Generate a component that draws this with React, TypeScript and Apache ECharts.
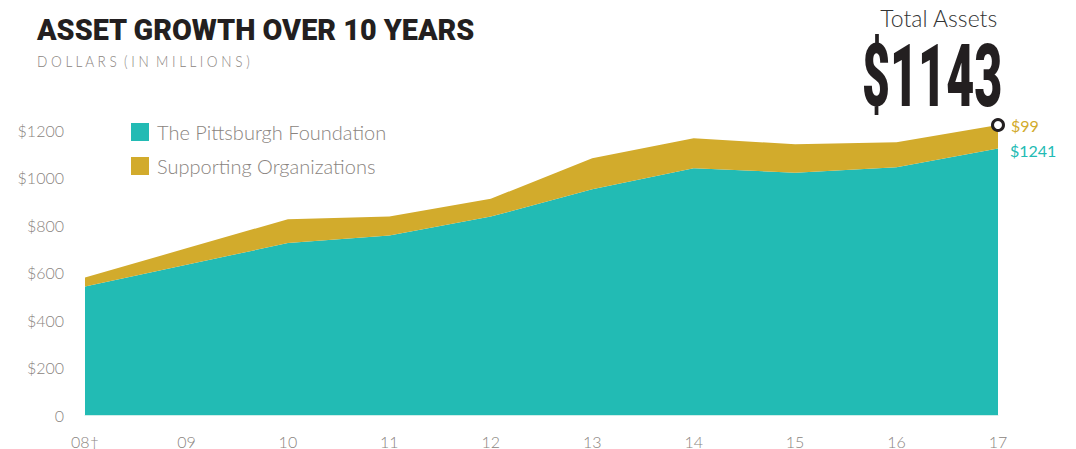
import React, { useEffect, useRef } from "react";
import * as echarts from "echarts";

const years = ["08†", "09", "10", "11", "12", "13", "14", "15", "16", "17"];
const pittsburghFoundation = [542, 634, 725, 757, 837, 952, 1041, 1022, 1045, 1124];
const supportingOrgs = [38, 69, 101, 80, 75, 131, 126, 120, 105, 99];
const yTicks = [0, 200, 400, 600, 800, 1000, 1200];
const endLabels = { foundation: "$1241", supporting: "$99" };
const totalAssetsText = "$1143";

const TEAL = "#22bbb4";
const GOLD = "#d2ab2c";
const GRAY = "#8a8480";
const DARK = "#231f20";
const FONT = "Lato, 'Open Sans', sans-serif";

export default function App() {
  const ref = useRef<HTMLDivElement>(null);
  useEffect(() => {
    if (!ref.current) return;
    const chart = echarts.init(ref.current, null, { renderer: "svg" });
    const last = years.length - 1;
    const fData = pittsburghFoundation.map((v, i) =>
      i === last
        ? {
            value: v,
            symbol: "circle",
            symbolSize: 2,
            itemStyle: { color: "rgba(0,0,0,0)", borderWidth: 0 },
            label: {
              show: true,
              position: "right",
              distance: 11,
              formatter: endLabels.foundation,
              color: TEAL,
              fontSize: 16,
              fontFamily: FONT,
              offset: [0, 2],
            },
          }
        : v
    );
    const sData = supportingOrgs.map((v, i) =>
      i === last
        ? {
            value: v,
            symbol: "circle",
            symbolSize: 11,
            itemStyle: { color: "#ffffff", borderColor: DARK, borderWidth: 3 },
            label: {
              show: true,
              position: "right",
              distance: 6,
              formatter: endLabels.supporting,
              color: GOLD,
              fontSize: 16,
              fontFamily: FONT,
            },
          }
        : v
    );
    chart.setOption({
      animation: false,
      grid: { left: 85, right: 78, top: 130.5, bottom: 33.5 },
      legend: {
        orient: "vertical",
        left: 131,
        top: 122,
        padding: 0,
        itemWidth: 18,
        itemHeight: 18,
        itemGap: 14,
        icon: "rect",
        textStyle: { color: GRAY, fontSize: 20, fontFamily: FONT, fontWeight: 300, padding: [0, 0, 0, 3] },
        data: ["The Pittsburgh Foundation", "Supporting Organizations"],
      },
      xAxis: {
        type: "category",
        data: years,
        boundaryGap: false,
        axisLine: { show: true, lineStyle: { color: "#cfeee9", width: 1 } },
        axisTick: { show: false },
        axisLabel: {
          color: GRAY,
          fontSize: 16,
          margin: 18,
          fontWeight: 300,
          fontFamily: FONT,
        },
      },
      yAxis: {
        type: "value",
        min: yTicks[0],
        max: yTicks[yTicks.length - 1],
        interval: 200,
        splitLine: { show: false },
        axisLine: { show: false },
        axisTick: { show: false },
        axisLabel: {
          color: GRAY,
          fontSize: 16,
          margin: 21,
          fontWeight: 300,
          fontFamily: FONT,
          formatter: (v: number) => (v === 0 ? "0" : "$" + v),
        },
      },
      series: [
        {
          name: "The Pittsburgh Foundation",
          type: "line",
          stack: "total",
          data: fData,
          symbol: "none",
          clip: false,
          lineStyle: { width: 0 },
          areaStyle: { color: TEAL, opacity: 1 },
          itemStyle: { color: TEAL },
          z: 2,
        },
        {
          name: "Supporting Organizations",
          type: "line",
          stack: "total",
          data: sData,
          symbol: "none",
          clip: false,
          lineStyle: { width: 0 },
          areaStyle: { color: GOLD, opacity: 1 },
          itemStyle: { color: GOLD },
          z: 3,
        },
      ],
      graphic: [
        {
          type: "text",
          x: 37,
          y: 15,
          scaleX: 0.96,
          style: {
            text: "ASSET GROWTH OVER 10 YEARS",
            fill: DARK,
            font: "900 30px Roboto, sans-serif",
          },
        },
        {
          type: "text",
          x: 37,
          y: 53,
          scaleX: 0.85,
          style: {
            text: "D O L L A R S  ( I N  M I L L I O N S )",
            fill: GRAY,
            font: "300 16px Lato, sans-serif",
          },
        },
        {
          type: "text",
          right: 78,
          top: 6,
          style: {
            text: "Total Assets",
            fill: "#333333",
            font: "300 23px Lato, sans-serif",
          },
        },
        {
          type: "text",
          x: 862,
          y: 32,
          scaleX: 0.55,
          style: {
            text: totalAssetsText,
            fill: DARK,
            font: "900 88px Roboto, sans-serif",
          },
        },
      ],
    });
    return () => chart.dispose();
  }, []);
  return (
    <div
      ref={ref}
      style={{ position: "fixed", left: 0, top: 0, width: 1076, height: 449, background: "#fff" }}
    />
  );
}
